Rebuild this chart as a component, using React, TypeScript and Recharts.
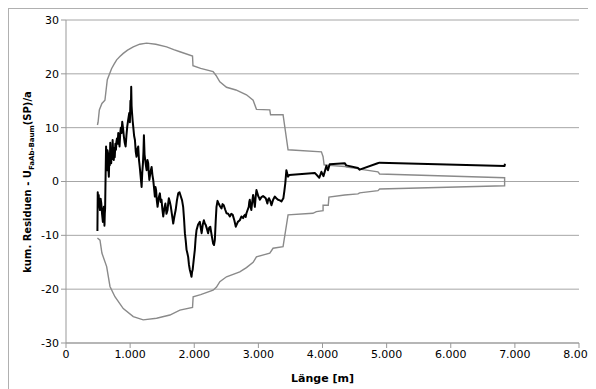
import { LineChart, Line, XAxis, YAxis, CartesianGrid, Label } from 'recharts';

// kumulierte Residuen (schwarze Linie)
const residX = [
  490, 495, 502, 510, 518, 530, 540, 550, 562, 575, 582, 590, 596, 600, 605, 610, 618, 625, 632, 640,
  647, 655, 661, 668, 676, 683, 690, 697, 705, 712, 720, 727, 735, 745, 752, 760, 770, 779, 787, 795,
  805, 815, 825, 835, 845, 855, 866, 877, 890, 903, 916, 930, 942, 955, 970, 986, 996, 1005, 1012, 1017,
  1023, 1030, 1040, 1050, 1062, 1075, 1088, 1100, 1112, 1126, 1138, 1150, 1165, 1179, 1190, 1200, 1208, 1215, 1225, 1235,
  1246, 1257, 1270, 1282, 1291, 1300, 1318, 1335, 1348, 1360, 1373, 1386, 1395, 1405, 1416, 1428, 1446, 1464, 1477, 1490,
  1503, 1516, 1533, 1550, 1567, 1584, 1594, 1604, 1620, 1635, 1653, 1672, 1690, 1710, 1730, 1750, 1770, 1791, 1810, 1827,
  1841, 1854, 1867, 1880, 1892, 1905, 1918, 1931, 1944, 1957, 1966, 1975, 1992, 2009, 2022, 2036, 2060, 2087, 2100, 2115,
  2133, 2150, 2165, 2180, 2198, 2216, 2233, 2250, 2272, 2294, 2308, 2321, 2334, 2347, 2363, 2380, 2402, 2425, 2442, 2460,
  2482, 2503, 2529, 2555, 2578, 2600, 2625, 2648, 2680, 2710, 2736, 2762, 2776, 2790, 2802, 2814, 2832, 2850, 2858, 2866,
  2878, 2890, 2904, 2918, 2932, 2945, 2958, 2970, 2985, 3000, 3011, 3022, 3048, 3073, 3094, 3115, 3128, 3140, 3152, 3165,
  3185, 3204, 3230, 3255, 3280, 3307, 3334, 3360, 3375, 3390, 3405, 3420, 3437, 3463, 3480, 3880, 3950, 3983, 4015, 4061,
  4085, 4112, 4346, 4370, 4553, 4580, 4860, 4890, 6840, 6845,
];
const residY = [
  -9.2, -2.0, -3.5, -2.5, -4.2, -5.3, -3.2, -4.0, -6.0, -7.5, -5.5, -4.7, -6.8, -8.2, -6.0, -5.0, 1.5, 6.5, 4.0, 2.1,
  5.8, 5.3, 2.5, 0.9, 4.5, 3.0, 7.2, 5.0, 3.4, 6.0, 4.2, 7.7, 5.5, 4.0, 6.2, 4.5, 7.0, 5.9, 7.4, 8.0,
  7.0, 9.0, 7.6, 6.5, 8.8, 10.0, 9.0, 11.1, 9.8, 8.3, 7.2, 6.5, 8.5, 10.2, 11.5, 12.7, 11.0, 15.0, 13.5, 17.6,
  14.0, 12.7, 11.2, 10.0, 8.5, 7.7, 5.5, 4.6, 6.0, 6.5, 4.0, 2.7, 0.8, -1.0, 1.8, 3.4, 5.5, 8.6, 5.0, 4.0,
  3.0, 2.1, 4.0, 3.4, 1.5, 0.3, 1.8, 2.7, 1.2, 0.3, -1.2, -2.8, -1.0, -1.6, -3.5, -4.7, -3.0, -2.2, -3.8, -3.4,
  -5.2, -6.5, -5.0, -4.1, -6.0, -5.3, -4.0, -3.1, -3.8, -4.7, -6.2, -7.8, -6.5, -5.3, -3.5, -2.2, -2.0, -2.8, -3.5, -4.7,
  -7.0, -9.6, -11.0, -12.7, -13.3, -14.0, -15.5, -16.4, -17.0, -17.7, -16.8, -16.4, -14.5, -12.7, -10.5, -9.0, -8.0, -7.5, -8.5, -9.6,
  -8.0, -7.2, -7.8, -8.1, -8.8, -9.6, -8.6, -8.4, -10.0, -11.5, -11.8, -10.9, -7.5, -4.7, -3.6, -4.1, -4.6, -5.0, -4.2, -4.4,
  -5.2, -5.9, -6.0, -6.5, -6.0, -6.2, -7.2, -8.4, -7.5, -7.2, -6.5, -6.8, -6.4, -6.2, -6.6, -5.9, -5.3, -4.7, -3.8, -3.4,
  -4.6, -5.3, -3.8, -2.5, -3.6, -4.7, -2.8, -1.6, -2.2, -2.8, -3.0, -3.4, -2.9, -2.7, -2.9, -3.1, -3.6, -4.1, -3.4, -3.1,
  -3.6, -4.4, -3.4, -2.8, -3.1, -3.4, -3.5, -3.7, -3.4, -3.1, -1.8, -0.3, 2.1, 0.9, 1.2, 1.6, 0.7, 1.8, 1.0, 2.9,
  2.1, 3.2, 3.4, 3.0, 2.5, 2.2, 3.4, 3.5, 2.9, 3.3,
];

// Grenzen (graue Linie), oben von links nach rechts
const upperX = [
  490, 500, 520, 560, 607, 644, 680, 712, 750, 790, 840, 893, 960, 1049, 1150, 1257, 1400, 1569, 1680, 1776,
  1973, 1980, 2100, 2294, 2340, 2399, 2503, 2650, 2814, 2918, 2970, 3178, 3190, 3385, 3463, 3983, 4009, 4025, 4100, 4346,
  4372, 4553, 4579, 4865, 4891, 6840,
];
const upperY = [
  10.5, 11.0, 13.3, 14.5, 15.1, 18.9, 20.0, 21.0, 21.8, 22.6, 23.2, 23.8, 24.4, 25.0, 25.5, 25.7, 25.5, 25.0, 24.5, 24.1,
  23.3, 21.5, 21.0, 20.4, 19.7, 18.5, 17.5, 17.0, 16.1, 15.1, 13.4, 13.3, 12.4, 12.4, 5.9, 5.5, 4.6, 3.1, 3.0, 2.8,
  2.7, 2.4, 2.3, 1.8, 1.4, 0.7,
];
// unten von rechts nach links
const lowerX = [
  6840, 4891, 4865, 4579, 4553, 4346, 4100, 4090, 4009, 4009, 3905, 3850, 3463, 3385, 3229, 3178, 2970, 2918, 2814, 2710,
  2503, 2399, 2347, 2294, 2100, 1983, 1973, 1776, 1620, 1413, 1204, 1049, 893, 763, 686, 634, 560, 530, 490,
];
const lowerY = [
  -0.8, -1.4, -1.7, -2.1, -2.3, -2.5, -2.9, -4.4, -4.4, -5.4, -5.6, -5.9, -6.2, -12.1, -12.4, -13.3, -14.0, -15.0, -16.0, -16.8,
  -17.7, -18.6, -19.6, -20.2, -21.0, -21.4, -23.4, -23.9, -24.8, -25.4, -25.7, -25.1, -23.6, -21.4, -19.5, -15.8, -13.3, -10.9, -10.5,
];

const xTicks = [0, 1000, 2000, 3000, 4000, 5000, 6000, 7000, 8000];
const yTicks = [-30, -20, -10, 0, 10, 20, 30];

const residData = residX.map((x, i) => ({ x, y: residY[i] }));
const envData = [
  ...upperX.map((x, i) => ({ x, y: upperY[i] })),
  ...lowerX.map((x, i) => ({ x, y: lowerY[i] })),
];

const font = '"DejaVu Sans", sans-serif';

// 1000 -> "1.000"
const fmtThousands = (v: number) => {
  const s = String(Math.round(v));
  return s.replace(/\B(?=(\d{3})+(?!\d))/g, '.');
};

const YLabel = () => (
  <text
    x={0}
    y={0}
    transform="translate(22 173) rotate(-90)"
    textAnchor="middle"
    fontFamily={font}
    fontWeight="bold"
    fontSize={10}
    fill="#000"
  >
    kum. Residuen - U
    <tspan fontSize={7} dy={2.5}>FaAb-Baum</tspan>
    <tspan dy={-2.5}>(SP)/a</tspan>
  </text>
);

export default function App() {
  return (
    <div style={{ width: 587, height: 380, border: '1px solid #b0b0b0', background: '#fff' }}>
      <LineChart width={587} height={380} margin={{ top: 11, right: 17, bottom: 16, left: 12 }}>
        <CartesianGrid vertical={false} stroke="#a6a6a6" strokeWidth={1} />
        <XAxis
          type="number"
          dataKey="x"
          domain={[0, 8000]}
          ticks={xTicks}
          interval={0}
          tickFormatter={fmtThousands}
          height={30}
          tickSize={5}
          axisLine={{ stroke: '#999' }}
          tickLine={{ stroke: '#999' }}
          tick={{ fill: '#000', fontSize: 11, fontFamily: font }}
        >
          <Label
            value="Länge [m]"
            position="insideBottom"
            offset={-9}
            style={{ fontFamily: font, fontWeight: 'bold', fontSize: 11, fill: '#000' }}
          />
        </XAxis>
        <YAxis
          type="number"
          domain={[-30, 30]}
          ticks={yTicks}
          interval={0}
          width={45}
          tickSize={5}
          axisLine={{ stroke: '#999' }}
          tickLine={{ stroke: '#999' }}
          tick={{ fill: '#000', fontSize: 11, fontFamily: font }}
        >
          <Label content={YLabel} />
        </YAxis>
        <Line
          data={envData}
          dataKey="y"
          type="linear"
          stroke="#8a8a8a"
          strokeWidth={1.4}
          dot={false}
          activeDot={false}
          isAnimationActive={false}
        />
        <Line
          data={residData}
          dataKey="y"
          type="linear"
          stroke="#000"
          strokeWidth={2}
          strokeLinejoin="round"
          dot={false}
          activeDot={false}
          isAnimationActive={false}
        />
      </LineChart>
    </div>
  );
}
